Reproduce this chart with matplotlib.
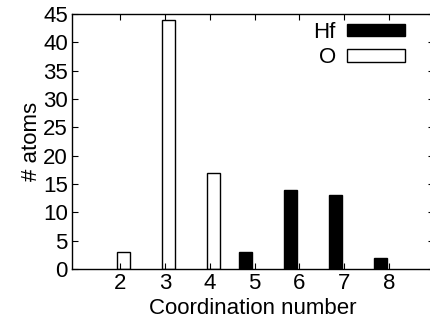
import matplotlib

matplotlib.use("Agg")

import matplotlib.pyplot as plt
from matplotlib.patches import Patch

# coordination number histograms
o_coord = [2, 3, 4]
o_counts = [3, 44, 17]
hf_coord = [5, 6, 7, 8]
hf_counts = [3, 14, 13, 2]
xticks = [2, 3, 4, 5, 6, 7, 8]
yticks = [0, 5, 10, 15, 20, 25, 30, 35, 40, 45]

plt.rcParams["font.family"] = ["Liberation Sans", "DejaVu Sans"]
plt.rcParams["font.size"] = 16

fig = plt.figure(figsize=(4.30, 3.22), dpi=100)
ax = fig.add_axes([72 / 430, 53 / 322, 362 / 430, 255 / 322])

width = 0.29
ax.bar([x + 0.08 for x in o_coord], o_counts, width=width,
       facecolor="white", edgecolor="black", lw=1.0)
ax.bar([x - 0.2 for x in hf_coord], hf_counts, width=width,
       facecolor="black", edgecolor="black", lw=1.0)

ax.set_xlim(0.93, 9.0)
ax.set_ylim(0, 45)
ax.set_xticks(xticks)
ax.set_yticks(yticks)
ax.tick_params(direction="in", top=True, right=True, length=4, width=0.8,
               labelsize=16, pad=3)
for s in ax.spines.values():
    s.set_linewidth(1.0)

ax.set_xlabel("Coordination number", fontsize=16, labelpad=3)
ax.set_ylabel("# atoms", fontsize=16, labelpad=1)

handles = [Patch(facecolor="black", edgecolor="black", label="Hf"),
           Patch(facecolor="white", edgecolor="black", label="O")]
ax.legend(handles=handles, loc="upper right", bbox_to_anchor=(0.962, 1.03),
          frameon=False, markerfirst=False, handlelength=2.6,
          handleheight=0.5, handletextpad=0.5, labelspacing=0.2,
          borderaxespad=0.3, fontsize=16)

fig.savefig("out.png", dpi=100)
